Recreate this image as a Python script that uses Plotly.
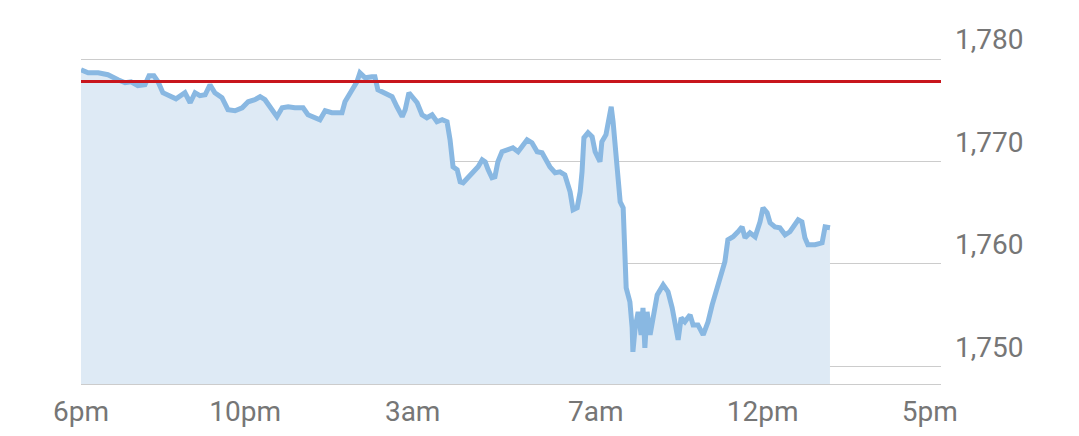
import plotly.graph_objects as go

# hours since session open (6pm) and price
hours = [0.00, 0.19, 0.46, 0.72, 0.99, 1.18, 1.34, 1.52, 1.71, 1.82, 1.95, 2.06, 2.19, 2.33, 2.54, 2.78,
         2.92, 3.05, 3.18, 3.32, 3.45, 3.58, 3.77, 3.93, 4.12, 4.31, 4.47, 4.65, 4.79, 4.92, 5.06, 5.24,
         5.38, 5.54, 5.72, 5.94, 6.07, 6.26, 6.39, 6.53, 6.71, 6.85, 6.98, 7.06, 7.25, 7.38, 7.46, 7.60,
         7.78, 7.86, 7.94, 8.13, 8.32, 8.45, 8.59, 8.67, 8.77, 8.88, 8.99, 9.12, 9.25, 9.39, 9.52, 9.66,
         9.79, 9.87, 9.95, 10.06, 10.14, 10.22, 10.35, 10.48, 10.62, 10.73, 10.81, 10.89, 10.99, 11.07,
         11.15, 11.26, 11.42, 11.55, 11.69, 11.82, 11.93, 12.06, 12.20, 12.33, 12.41, 12.54, 12.68, 12.81,
         12.94, 13.08, 13.16, 13.27, 13.35, 13.40, 13.45, 13.56, 13.67, 13.75, 13.88, 13.93, 14.04, 14.09,
         14.18, 14.23, 14.31, 14.36, 14.42, 14.50, 14.55, 14.58, 14.63, 14.68, 14.74, 14.76, 14.82, 14.90,
         14.98, 15.03, 15.08, 15.14, 15.22, 15.30, 15.41, 15.57, 15.70, 15.81, 15.89, 15.97, 16.05, 16.15,
         16.29, 16.37, 16.50, 16.64, 16.69, 16.77, 16.88, 17.01, 17.14, 17.22, 17.30, 17.44, 17.57, 17.68,
         17.76, 17.89, 18.03, 18.16, 18.24, 18.35, 18.43, 18.56, 18.69, 18.83, 18.96, 19.04, 19.18, 19.28,
         19.36, 19.44, 19.63, 19.82, 19.90, 20.03]
prices = [1778.96, 1778.66, 1778.66, 1778.47, 1777.98, 1777.69, 1777.78, 1777.39, 1777.49, 1778.37, 1778.37,
          1777.78, 1776.71, 1776.42, 1776.12, 1776.71, 1775.73, 1776.71, 1776.42, 1776.51, 1777.49, 1776.71,
          1776.22, 1775.05, 1774.95, 1775.24, 1775.83, 1776.03, 1776.32, 1776.03, 1775.24, 1774.37, 1775.24,
          1775.34, 1775.24, 1775.24, 1774.56, 1774.27, 1774.07, 1774.95, 1774.76, 1774.76, 1774.76, 1775.83,
          1777.00, 1777.78, 1778.66, 1778.17, 1778.27, 1778.27, 1777.00, 1776.71, 1776.32, 1775.34, 1774.37,
          1775.05, 1776.71, 1776.22, 1775.73, 1774.56, 1774.27, 1774.56, 1773.88, 1774.07, 1773.88, 1772.12,
          1769.48, 1769.19, 1768.02, 1767.92, 1768.41, 1768.90, 1769.48, 1770.17, 1769.97, 1769.19, 1768.41,
          1768.51, 1769.97, 1770.95, 1771.14, 1771.34, 1770.95, 1771.63, 1772.12, 1771.83, 1770.95, 1770.85,
          1770.36, 1769.48, 1768.90, 1768.99, 1768.70, 1767.04, 1765.28, 1765.48, 1767.04, 1768.99, 1772.31,
          1772.80, 1772.41, 1770.95, 1769.97, 1771.92, 1772.61, 1773.58, 1775.34, 1773.88, 1769.97, 1767.43,
          1766.06, 1765.48, 1761.87, 1757.67, 1756.98, 1756.30, 1753.76, 1751.42, 1753.76, 1755.32, 1753.08,
          1755.71, 1751.81, 1755.32, 1753.08, 1755.03, 1756.98, 1757.96, 1757.28, 1755.71, 1753.76, 1752.59,
          1754.74, 1754.35, 1755.03, 1754.05, 1754.05, 1753.08, 1753.56, 1754.35, 1756.01, 1757.67, 1759.23,
          1760.21, 1762.35, 1762.65, 1763.14, 1763.62, 1762.55, 1763.04, 1762.65, 1764.11, 1765.48, 1764.99,
          1764.01, 1763.62, 1763.53, 1762.84, 1763.14, 1763.62, 1764.31, 1764.11, 1762.55, 1761.87, 1761.87,
          1762.06, 1763.62, 1763.53]
previous_close = 1777.8

x_tick_pos = [0, 4.39, 8.87, 13.77, 18.23, 22.7]
x_tick_labels = ["6pm", "10pm", "3am", "7am", "12pm", "5pm"]
y_ticks = [1750, 1760, 1770, 1780]
y_tick_labels = ["1,750", "1,760", "1,770", "1,780"]

fig = go.Figure()
fig.add_trace(go.Scatter(
    x=hours, y=prices, mode="lines",
    line=dict(color="rgb(137,184,226)", width=5),
    fill="tozeroy", fillcolor="rgb(222,234,245)",
    hoverinfo="skip",
))
fig.add_hline(y=previous_close, line=dict(color="#c8161d", width=3), layer="above")

font = dict(family="Roboto", size=28, color="#767676")
# page body adds an 8px offset, so the figure is 8px smaller on each axis
fig.update_layout(
    width=1071, height=428,
    margin=dict(l=73, r=138, t=50, b=52, autoexpand=False),
    paper_bgcolor="white", plot_bgcolor="white",
    showlegend=False,
    font=font,
)
fig.update_xaxes(
    range=[0, 23], tickvals=x_tick_pos, ticktext=x_tick_labels, automargin=False,
    showgrid=False, zeroline=False, showline=True, linecolor="#cccccc", linewidth=1,
    ticks="", ticklabelstandoff=2, tickfont=font,
)
fig.update_yaxes(
    range=[1748.28, 1780.1], side="right", tickvals=y_ticks, ticktext=y_tick_labels, automargin=False,
    showgrid=True, gridcolor="#cccccc", gridwidth=1, zeroline=False, showline=False,
    ticks="", ticklabelposition="outside top", ticklabelstandoff=13, tickfont=font,
)
fig.write_html("out.html")
